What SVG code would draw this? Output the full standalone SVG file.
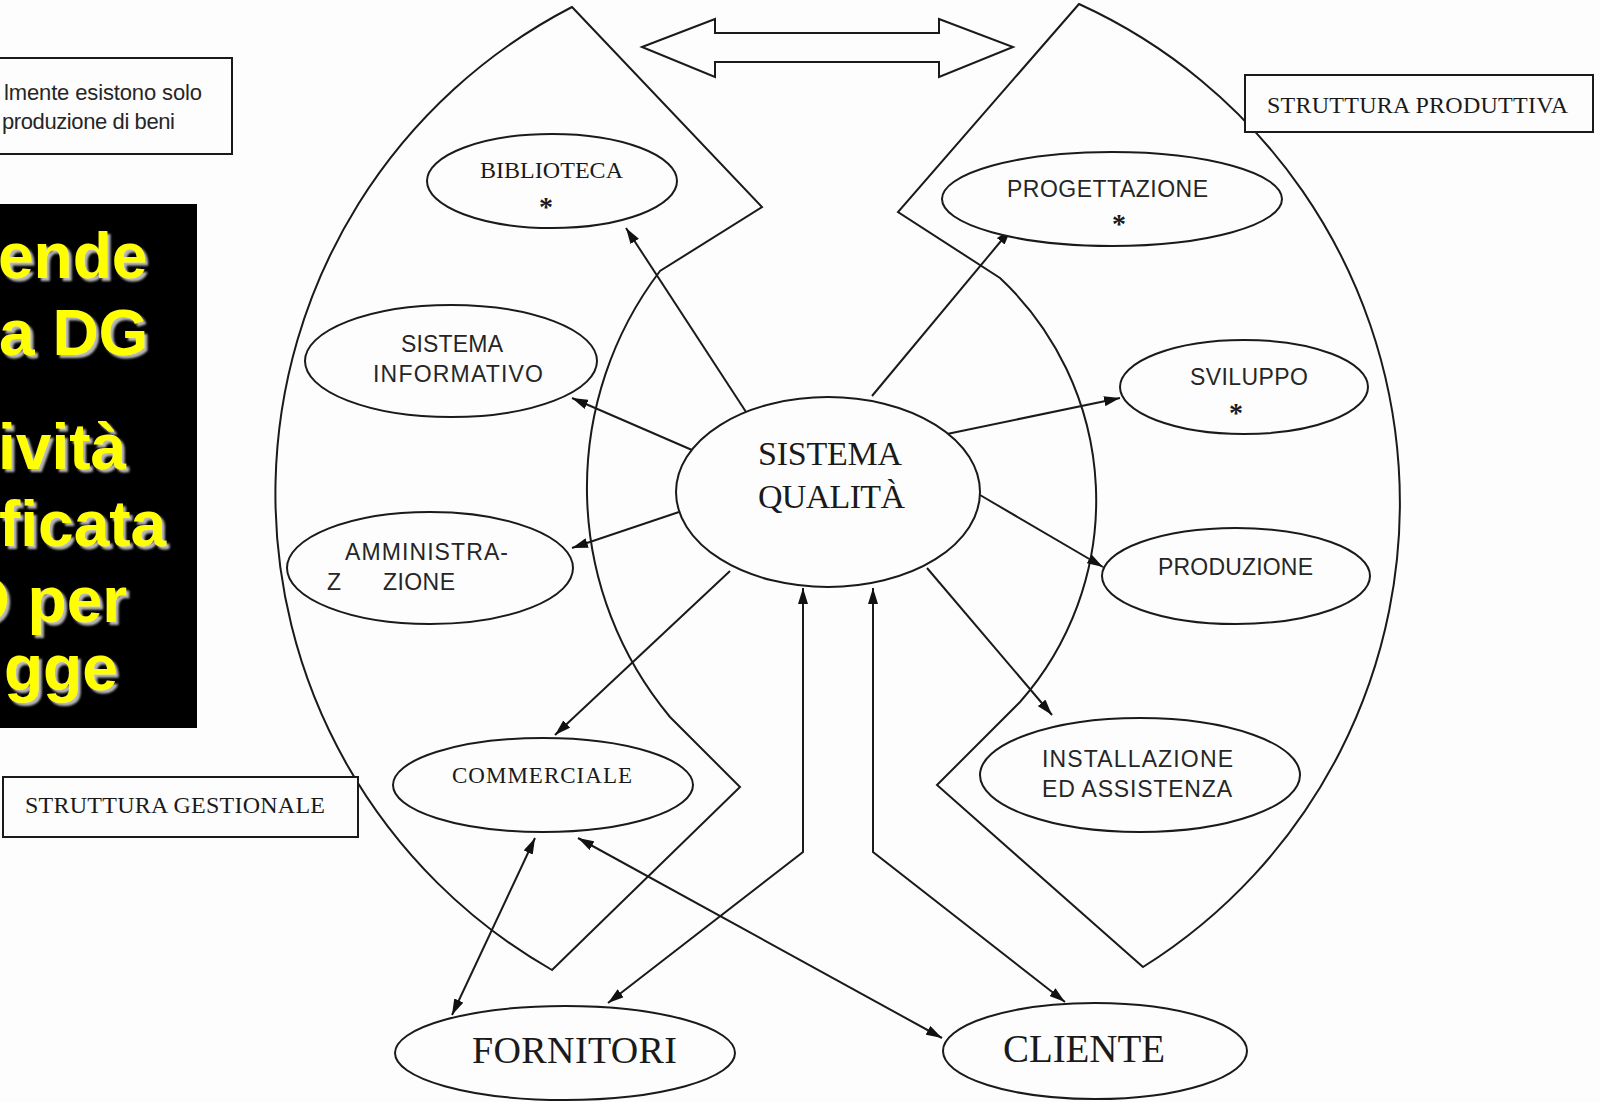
<svg xmlns="http://www.w3.org/2000/svg" width="1600" height="1102" viewBox="0 0 1600 1102">
  <defs>
    <marker id="ah" viewBox="0 0 16 10" refX="16" refY="5" markerWidth="16" markerHeight="10" markerUnits="userSpaceOnUse" orient="auto-start-reverse">
      <path d="M0,0 L16,5 L0,10 Z" fill="#111"/>
    </marker>
    <filter id="glow" x="-10%" y="-10%" width="130%" height="130%">
      <feDropShadow dx="3" dy="3" stdDeviation="1" flood-color="#b8b8b8" flood-opacity="1"/>
    </filter>
  </defs>
  <style>
    .bg { fill: #fdfdfd; }
    .shape { fill: none; stroke: #1a1a1a; stroke-width: 2; stroke-linejoin: miter; }
    .node { fill: #fdfdfd; stroke: #1a1a1a; stroke-width: 2; }
    .box { fill: #fdfdfd; stroke: #1a1a1a; stroke-width: 2; }
    .serif { font-family: "Liberation Serif", "Times New Roman", serif; fill: #1a1a1a; }
    .sans { font-family: "Liberation Sans", Arial, sans-serif; fill: #262626; font-size: 23px; }
    .star { font-family: "Liberation Serif", serif; font-size: 28px; font-weight: bold; fill: #1a1a1a; text-anchor: middle; }
    .conn { fill: none; stroke: #1a1a1a; stroke-width: 2; }
    .slide { font-family: "Liberation Sans", Arial, sans-serif; font-weight: bold; font-size: 64px; fill: #ffff00; }
  </style>

  <rect class="bg" x="0" y="0" width="1600" height="1102"/>

  <!-- two wings: management structure (left) and production structure (right) -->
  <g id="wing-gestionale">
    <path class="shape" d="M572,7 L762,207 L660,271 A358,358 0 0 0 670,717 L740,787 L552,970 A548,548 0 0 1 572,7 Z"/>
  </g>
  <g id="wing-produttiva">
    <path class="shape" d="M1079,4 L898,212 L1000,278 A305,305 0 0 1 1020,702 L937,785 L1143,967 A548,548 0 0 0 1079,4 Z"/>
  </g>

  <!-- hollow double arrow between the wings -->
  <g id="double-arrow">
    <polygon class="shape" points="642,47 715,19 715,33 939,33 939,19 1013,47 939,77 939,62 715,62 715,77"/>
  </g>

  <!-- connectors -->
  <g id="connectors">
    <path class="conn" d="M748,415 L626,228" marker-end="url(#ah)"/>
    <path class="conn" d="M692,450 L572,398" marker-end="url(#ah)"/>
    <path class="conn" d="M679,512 L572,548" marker-end="url(#ah)"/>
    <path class="conn" d="M730,571 L555,735" marker-end="url(#ah)"/>
    <path class="conn" d="M608,1003 L803,852 L803,588" marker-start="url(#ah)" marker-end="url(#ah)"/>
    <path class="conn" d="M873,588 L873,852 L1065,1002" marker-start="url(#ah)" marker-end="url(#ah)"/>
    <path class="conn" d="M578,838 L942,1038" marker-start="url(#ah)" marker-end="url(#ah)"/>
    <path class="conn" d="M535,838 L452,1015" marker-start="url(#ah)" marker-end="url(#ah)"/>
    <path class="conn" d="M872,396 L1011,229" marker-end="url(#ah)"/>
    <path class="conn" d="M947,434 L1120,398" marker-end="url(#ah)"/>
    <path class="conn" d="M980,495 L1103,567" marker-end="url(#ah)"/>
    <path class="conn" d="M927,568 L1052,715" marker-end="url(#ah)"/>
  </g>

  <!-- nodes -->
  <g id="sistema-qualita">
    <ellipse class="node" cx="828" cy="492" rx="152" ry="95"/>
    <text class="serif" x="758" y="465" font-size="34" textLength="144">SISTEMA</text>
    <text class="serif" x="758" y="508" font-size="34" textLength="147">QUALITÀ</text>
  </g>

  <g id="biblioteca">
    <ellipse class="node" cx="552" cy="181" rx="125" ry="47"/>
    <text class="serif" x="480" y="178" font-size="24" textLength="143">BIBLIOTECA</text>
    <text class="star" x="546" y="216">*</text>
  </g>

  <g id="sistema-informativo">
    <ellipse class="node" cx="451" cy="361" rx="146" ry="56"/>
    <text class="sans" x="401" y="352" textLength="102">SISTEMA</text>
    <text class="sans" x="373" y="382" textLength="170">INFORMATIVO</text>
  </g>

  <g id="amministrazione">
    <ellipse class="node" cx="430" cy="568" rx="143" ry="56"/>
    <text class="sans" x="345" y="560" textLength="163">AMMINISTRA-</text>
    <text class="sans" x="327" y="590">Z</text>
    <text class="sans" x="383" y="590" textLength="72">ZIONE</text>
  </g>

  <g id="commerciale">
    <ellipse class="node" cx="543" cy="785" rx="150" ry="47"/>
    <text class="serif" x="452" y="783" font-size="23" textLength="180">COMMERCIALE</text>
  </g>

  <g id="progettazione">
    <ellipse class="node" cx="1112" cy="199" rx="170" ry="47"/>
    <text class="sans" x="1007" y="197" textLength="201">PROGETTAZIONE</text>
    <text class="star" x="1119" y="233">*</text>
  </g>

  <g id="sviluppo">
    <ellipse class="node" cx="1244" cy="387" rx="124" ry="47"/>
    <text class="sans" x="1190" y="385" textLength="118">SVILUPPO</text>
    <text class="star" x="1236" y="422">*</text>
  </g>

  <g id="produzione">
    <ellipse class="node" cx="1236" cy="576" rx="134" ry="48"/>
    <text class="sans" x="1158" y="575" textLength="155">PRODUZIONE</text>
  </g>

  <g id="installazione">
    <ellipse class="node" cx="1140" cy="775" rx="160" ry="57"/>
    <text class="sans" x="1042" y="767" textLength="191">INSTALLAZIONE</text>
    <text class="sans" x="1042" y="797" textLength="190">ED  ASSISTENZA</text>
  </g>

  <g id="fornitori">
    <ellipse class="node" cx="565" cy="1053" rx="170" ry="47"/>
    <text class="serif" x="472" y="1063" font-size="38" textLength="205">FORNITORI</text>
  </g>

  <g id="cliente">
    <ellipse class="node" cx="1095" cy="1051" rx="152" ry="48"/>
    <text class="serif" x="1003" y="1062" font-size="39" textLength="162">CLIENTE</text>
  </g>

  <!-- captions -->
  <g id="label-produttiva">
    <rect class="box" x="1245" y="75" width="348" height="57"/>
    <text class="serif" x="1267" y="113" font-size="24" textLength="301">STRUTTURA PRODUTTIVA</text>
  </g>

  <g id="label-gestionale">
    <rect class="box" x="3" y="777" width="355" height="60"/>
    <text class="serif" x="25" y="813" font-size="24" textLength="300">STRUTTURA GESTIONALE</text>
  </g>

  <g id="note">
    <rect class="box" x="-10" y="58" width="242" height="96"/>
    <text class="sans" x="4" y="100" textLength="198" style="font-size:22px">lmente esistono solo</text>
    <text class="sans" x="2" y="129" textLength="173" style="font-size:22px">produzione di beni</text>
  </g>

  <!-- black slide panel -->
  <g id="panel">
    <rect x="-10" y="204" width="207" height="524" fill="#000"/>
    <g filter="url(#glow)">
      <text class="slide" x="-2" y="278">ende</text>
      <text class="slide" x="-1" y="355">a DG</text>
      <text class="slide" x="-2" y="469">ività</text>
      <text class="slide" x="-1" y="546">ficata</text>
      <text class="slide" x="-40" y="622">O per</text>
      <text class="slide" x="4" y="690">gge</text>
    </g>
  </g>
</svg>
